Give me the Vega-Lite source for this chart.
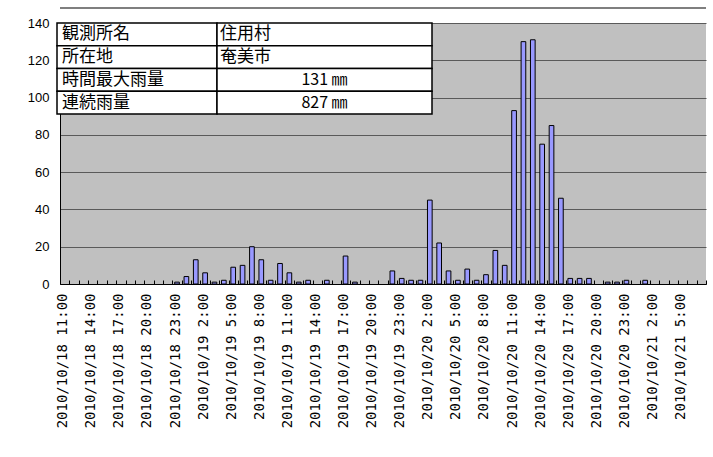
{
  "$schema": "https://vega.github.io/schema/vega-lite/v6.json",
  "width": 646,
  "height": 261,
  "autosize": {"type": "none"},
  "padding": {"left": 60, "top": 23, "right": 7, "bottom": 173},
  "background": "white",
  "config": {
    "view": {"fill": "#c0c0c0", "stroke": null}
  },
  "resolve": {"scale": {"x": "independent", "y": "independent"}},
  "layer": [
    {
      "data": {
        "values": [
          {"time": "2010/10/18 11:00", "rain": 0},
          {"time": "2010/10/18 12:00", "rain": 0},
          {"time": "2010/10/18 13:00", "rain": 0},
          {"time": "2010/10/18 14:00", "rain": 0},
          {"time": "2010/10/18 15:00", "rain": 0},
          {"time": "2010/10/18 16:00", "rain": 0},
          {"time": "2010/10/18 17:00", "rain": 0},
          {"time": "2010/10/18 18:00", "rain": 0},
          {"time": "2010/10/18 19:00", "rain": 0},
          {"time": "2010/10/18 20:00", "rain": 0},
          {"time": "2010/10/18 21:00", "rain": 0},
          {"time": "2010/10/18 22:00", "rain": 0},
          {"time": "2010/10/18 23:00", "rain": 1},
          {"time": "2010/10/19 0:00", "rain": 4},
          {"time": "2010/10/19 1:00", "rain": 13},
          {"time": "2010/10/19 2:00", "rain": 6},
          {"time": "2010/10/19 3:00", "rain": 1},
          {"time": "2010/10/19 4:00", "rain": 2},
          {"time": "2010/10/19 5:00", "rain": 9},
          {"time": "2010/10/19 6:00", "rain": 10},
          {"time": "2010/10/19 7:00", "rain": 20},
          {"time": "2010/10/19 8:00", "rain": 13},
          {"time": "2010/10/19 9:00", "rain": 2},
          {"time": "2010/10/19 10:00", "rain": 11},
          {"time": "2010/10/19 11:00", "rain": 6},
          {"time": "2010/10/19 12:00", "rain": 1},
          {"time": "2010/10/19 13:00", "rain": 2},
          {"time": "2010/10/19 14:00", "rain": 0},
          {"time": "2010/10/19 15:00", "rain": 2},
          {"time": "2010/10/19 16:00", "rain": 0},
          {"time": "2010/10/19 17:00", "rain": 15},
          {"time": "2010/10/19 18:00", "rain": 1},
          {"time": "2010/10/19 19:00", "rain": 0},
          {"time": "2010/10/19 20:00", "rain": 0},
          {"time": "2010/10/19 21:00", "rain": 0},
          {"time": "2010/10/19 22:00", "rain": 7},
          {"time": "2010/10/19 23:00", "rain": 3},
          {"time": "2010/10/20 0:00", "rain": 2},
          {"time": "2010/10/20 1:00", "rain": 2},
          {"time": "2010/10/20 2:00", "rain": 45},
          {"time": "2010/10/20 3:00", "rain": 22},
          {"time": "2010/10/20 4:00", "rain": 7},
          {"time": "2010/10/20 5:00", "rain": 2},
          {"time": "2010/10/20 6:00", "rain": 8},
          {"time": "2010/10/20 7:00", "rain": 2},
          {"time": "2010/10/20 8:00", "rain": 5},
          {"time": "2010/10/20 9:00", "rain": 18},
          {"time": "2010/10/20 10:00", "rain": 10},
          {"time": "2010/10/20 11:00", "rain": 93},
          {"time": "2010/10/20 12:00", "rain": 130},
          {"time": "2010/10/20 13:00", "rain": 131},
          {"time": "2010/10/20 14:00", "rain": 75},
          {"time": "2010/10/20 15:00", "rain": 85},
          {"time": "2010/10/20 16:00", "rain": 46},
          {"time": "2010/10/20 17:00", "rain": 3},
          {"time": "2010/10/20 18:00", "rain": 3},
          {"time": "2010/10/20 19:00", "rain": 3},
          {"time": "2010/10/20 20:00", "rain": 0},
          {"time": "2010/10/20 21:00", "rain": 1},
          {"time": "2010/10/20 22:00", "rain": 1},
          {"time": "2010/10/20 23:00", "rain": 2},
          {"time": "2010/10/21 0:00", "rain": 0},
          {"time": "2010/10/21 1:00", "rain": 2},
          {"time": "2010/10/21 2:00", "rain": 0},
          {"time": "2010/10/21 3:00", "rain": 0},
          {"time": "2010/10/21 4:00", "rain": 0},
          {"time": "2010/10/21 5:00", "rain": 0},
          {"time": "2010/10/21 6:00", "rain": 0},
          {"time": "2010/10/21 7:00", "rain": 0}
        ]
      },
      "mark": {"type": "bar", "fill": "#9999ff", "stroke": "black", "strokeWidth": 1, "width": {"band": 0.5}},
      "encoding": {
        "x": {
          "field": "time",
          "type": "nominal",
          "sort": null,
          "scale": {"paddingInner": 0, "paddingOuter": 0},
          "axis": {
            "title": null,
            "labelAngle": -90,
            "labelAlign": "right",
            "labelBaseline": "middle",
            "labelFont": "DejaVu Sans Mono",
            "labelFontSize": 14,
            "labelColor": "black",
            "labelExpr": "parseInt(split(datum.label, ' ')[1]) % 3 == 2 ? datum.label : ''",
            "labelOverlap": false,
            "labelPadding": 13,
            "labelOffset": -2,
            "tickBand": "extent",
            "tickSize": -4,
            "tickColor": "black",
            "domainColor": "black",
            "grid": false
          }
        },
        "y": {
          "field": "rain",
          "type": "quantitative",
          "scale": {"domain": [0, 140], "nice": false},
          "axis": {
            "title": null,
            "values": [0, 20, 40, 60, 80, 100, 120, 140],
            "labelFont": "Liberation Sans",
            "labelFontSize": 13,
            "labelColor": "black",
            "labelPadding": 11,
            "labelOverlap": false,
            "ticks": false,
            "domainColor": "black",
            "grid": true,
            "gridColor": "#5a5a5a",
            "gridWidth": 1
          }
        },
        "strokeOpacity": {"condition": {"test": "datum.rain == 0", "value": 0}, "value": 1}
      }
    },
    {
      "data": {"values": [{}]},
      "mark": {"type": "rule", "color": "#7f7f7f", "strokeWidth": 2},
      "encoding": {
        "y": {"datum": 148, "type": "quantitative", "axis": null,
              "scale": {"domain": [0, 140], "nice": false}}
      }
    },
    {
      "data": {"name": "station"},
      "mark": {"type": "rect", "fill": "white", "stroke": "black", "strokeWidth": 1.5},
      "encoding": {
        "x": {"datum": "col1", "type": "nominal", "axis": null,
              "scale": {"type": "band", "domain": ["col1"], "range": [-3, 157], "paddingInner": 0, "paddingOuter": 0}},
        "y": {"field": "item", "type": "nominal", "sort": null, "axis": null,
              "scale": {"type": "band", "domain": ["観測所名", "所在地", "時間最大雨量", "連続雨量"], "range": [0, 91], "paddingInner": 0, "paddingOuter": 0}}
      }
    },
    {
      "data": {"name": "station"},
      "mark": {"type": "rect", "fill": "white", "stroke": "black", "strokeWidth": 1.5},
      "encoding": {
        "x": {"datum": "col2", "type": "nominal", "axis": null,
              "scale": {"type": "band", "domain": ["col2"], "range": [157, 372], "paddingInner": 0, "paddingOuter": 0}},
        "y": {"field": "item", "type": "nominal", "sort": null, "axis": null,
              "scale": {"type": "band", "domain": ["観測所名", "所在地", "時間最大雨量", "連続雨量"], "range": [0, 91], "paddingInner": 0, "paddingOuter": 0}}
      }
    },
    {
      "data": {"name": "station"},
      "mark": {"type": "text", "align": "left", "baseline": "middle", "dx": 5, "font": "Noto Sans CJK JP", "fontSize": 17, "color": "black"},
      "encoding": {
        "x": {"datum": "col1", "type": "nominal", "axis": null, "bandPosition": 0,
              "scale": {"type": "band", "domain": ["col1"], "range": [-3, 157], "paddingInner": 0, "paddingOuter": 0}},
        "y": {"field": "item", "type": "nominal", "sort": null, "axis": null,
              "scale": {"type": "band", "domain": ["観測所名", "所在地", "時間最大雨量", "連続雨量"], "range": [0, 91], "paddingInner": 0, "paddingOuter": 0}},
        "text": {"field": "item"}
      }
    },
    {
      "data": {"name": "station"},
      "transform": [{"filter": "isValid(datum.text)"}],
      "mark": {"type": "text", "align": "left", "baseline": "middle", "dx": 3, "font": "Noto Sans CJK JP", "fontSize": 17, "color": "black"},
      "encoding": {
        "x": {"datum": "col2", "type": "nominal", "axis": null, "bandPosition": 0,
              "scale": {"type": "band", "domain": ["col2"], "range": [157, 372], "paddingInner": 0, "paddingOuter": 0}},
        "y": {"field": "item", "type": "nominal", "sort": null, "axis": null,
              "scale": {"type": "band", "domain": ["観測所名", "所在地", "時間最大雨量", "連続雨量"], "range": [0, 91], "paddingInner": 0, "paddingOuter": 0}},
        "text": {"field": "text"}
      }
    },
    {
      "data": {"name": "station"},
      "transform": [
        {"filter": "isValid(datum.amount)"},
        {"calculate": "datum.amount + ' ㎜'", "as": "amountLabel"}
      ],
      "mark": {"type": "text", "align": "center", "baseline": "middle", "font": "Noto Sans CJK JP", "fontSize": 16, "color": "black"},
      "encoding": {
        "x": {"datum": "col2", "type": "nominal", "axis": null,
              "scale": {"type": "band", "domain": ["col2"], "range": [157, 372], "paddingInner": 0, "paddingOuter": 0}},
        "y": {"field": "item", "type": "nominal", "sort": null, "axis": null,
              "scale": {"type": "band", "domain": ["観測所名", "所在地", "時間最大雨量", "連続雨量"], "range": [0, 91], "paddingInner": 0, "paddingOuter": 0}},
        "text": {"field": "amountLabel"}
      }
    }
  ],
  "datasets": {
    "station": [
      {"item": "観測所名", "text": "住用村"},
      {"item": "所在地", "text": "奄美市"},
      {"item": "時間最大雨量", "amount": 131},
      {"item": "連続雨量", "amount": 827}
    ]
  }
}
